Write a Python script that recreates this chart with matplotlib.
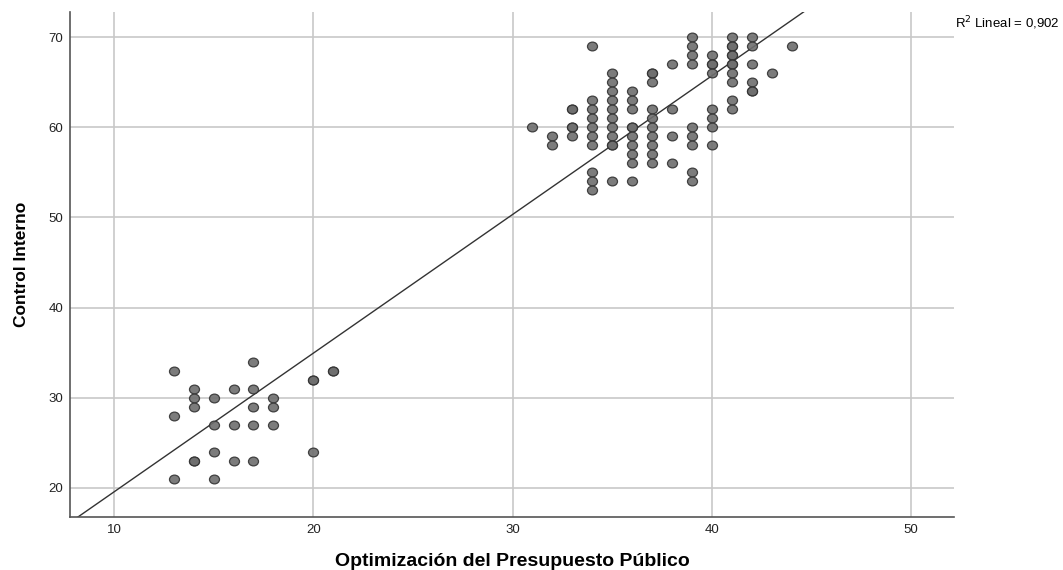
import matplotlib.pyplot as plt
import numpy as np
from matplotlib.path import Path
from matplotlib.transforms import Affine2D

# low group (Optimizacion, Control)
low_x = [13, 13, 13, 14, 14, 14, 14, 14, 15, 15, 15, 15, 16, 16, 16,
         17, 17, 17, 17, 17, 18, 18, 18, 20, 20, 20, 21, 21]
low_y = [33, 28, 21, 31, 30, 29, 23, 23, 30, 27, 24, 21, 31, 27, 23,
         34, 31, 29, 27, 23, 30, 29, 27, 32, 32, 24, 33, 33]

# high group, by column
high_cols = {
    31: [60],
    32: [59, 58],
    33: [62, 62, 60, 60, 59],
    34: [69, 63, 62, 61, 60, 59, 58, 55, 54, 53],
    35: [66, 65, 64, 63, 62, 61, 60, 59, 58, 58, 54],
    36: [64, 63, 62, 60, 60, 59, 58, 57, 56, 54],
    37: [66, 66, 65, 62, 61, 60, 59, 58, 57, 56],
    38: [67, 62, 59, 56],
    39: [70, 69, 68, 67, 60, 59, 58, 55, 54],
    40: [68, 67, 67, 66, 62, 61, 60, 58],
    41: [70, 69, 69, 68, 68, 67, 67, 66, 65, 63, 62],
    42: [70, 69, 67, 65, 64, 64],
    43: [66],
    44: [69],
}
high_x = [k for k, v in high_cols.items() for _ in v]
high_y = [y for v in high_cols.values() for y in v]

x = np.array(low_x + high_x, dtype=float)
y = np.array(low_y + high_y, dtype=float)

slope, inter = np.polyfit(x, y, 1)

plt.rcParams["font.family"] = ["Liberation Sans", "DejaVu Sans"]

fig = plt.figure(figsize=(10.63, 5.70), dpi=100)
ax = fig.add_axes([0.0659, 0.093, 0.832, 0.886])

ax.set_xlim(7.8, 52.17)
ax.set_ylim(16.76, 72.8)
ax.set_xticks([10, 20, 30, 40, 50])
ax.set_yticks([20, 30, 40, 50, 60, 70])
ax.grid(True, color="#c8c8c8", linewidth=1.2)
ax.set_axisbelow(True)
ax.tick_params(length=0, labelsize=9.5, colors="#222222", pad=5)

for s in ["top", "right"]:
    ax.spines[s].set_visible(False)
for s in ["left", "bottom"]:
    ax.spines[s].set_color("#555555")
    ax.spines[s].set_linewidth(1.2)

xx = np.array([7.8, 52.17])
ax.plot(xx, inter + slope * xx, color="#333333", linewidth=1.0, zorder=2)

# slightly wide oval marker
oval = Path.unit_circle().transformed(Affine2D().scale(1.14, 1.0))
ax.scatter(x, y, s=52, marker=oval, facecolor="#6e6e6e", edgecolor="#333333",
           linewidth=0.9, alpha=0.9, zorder=3)

ax.set_xlabel("Optimización del Presupuesto Público", fontsize=14,
              fontweight="bold", labelpad=12)
ax.set_ylabel("Control Interno", fontsize=12.5, fontweight="bold", labelpad=14)

fig.text(0.8984, 0.952, r"R$^2$ Lineal = 0,902", fontsize=9.5)

fig.savefig("out.png", dpi=100)
